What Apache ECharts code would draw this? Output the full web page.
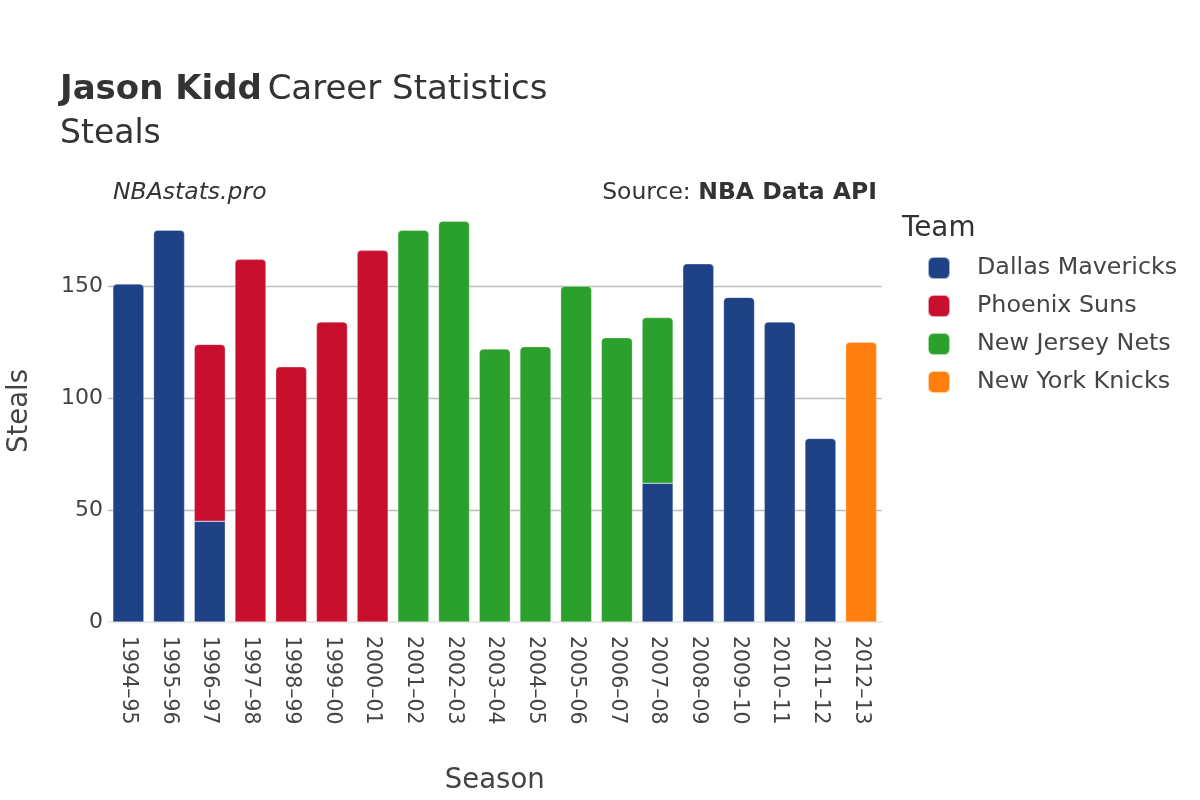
<!DOCTYPE html>
<html><head><meta charset="utf-8">
<script src="https://cdn.jsdelivr.net/npm/echarts@6/dist/echarts.min.js"></script>
<style>html,body{margin:0;padding:0;background:#fff}#c{width:1200px;height:800px}</style>
</head><body><div id="c"></div>
<script>
const seasons = ["1994\u201395","1995\u201396","1996\u201397","1997\u201398","1998\u201399","1999\u201300","2000\u201301","2001\u201302","2002\u201303","2003\u201304","2004\u201305","2005\u201306","2006\u201307","2007\u201308","2008\u201309","2009\u201310","2010\u201311","2011\u201312","2012\u201313"];
const teams = ["Dallas Mavericks","Phoenix Suns","New Jersey Nets","New York Knicks"];
const teamColors = ["#1f4287","#c8102e","#2ca02c","#ff7f0e"];
const dal = [151,175,45,null,null,null,null,null,null,null,null,null,null,62,160,145,134,82,null];
const phx = [null,null,79,162,114,134,166,null,null,null,null,null,null,null,null,null,null,null,null];
const njn = [null,null,null,null,null,null,null,175,179,122,123,150,127,74,null,null,null,null,null];
const nyk = [null,null,null,null,null,null,null,null,null,null,null,null,null,null,null,null,null,null,125];
const yTicks = [0,50,100,150];

const font = "DejaVu Sans, sans-serif";
const all = [dal,phx,njn,nyk];
const series = all.map((arr,si)=>({
  name: teams[si], type:'bar', stack:'total', barWidth:31,
  itemStyle:{color:teamColors[si], borderColor:'rgba(255,255,255,0.6)', borderWidth:0.5},
  data: arr.map((v,i)=>{
    if(v==null) return null;
    const isTop = !all.slice(si+1).some(a=>a[i]!=null);
    return {value:v, itemStyle:{borderRadius: isTop?[4,4,0,0]:0}};
  })
}));

const chart = echarts.init(document.getElementById('c'));
chart.setOption({
  animation:false,
  textStyle:{fontFamily:font},
  grid:{left:108,right:318.5,top:200,bottom:178,containLabel:false,outerBoundsMode:'none'},
  xAxis:{type:'category', data:seasons,
    axisLine:{show:true,lineStyle:{color:'#ebebeb',width:2}},
    axisTick:{show:false},
    axisLabel:{rotate:-90, color:'#444', fontSize:20.5, fontFamily:font, margin:14},
    name:'Season', nameLocation:'middle', nameGap:145,
    nameTextStyle:{fontSize:27.5,color:'#444',fontFamily:font}
  },
  yAxis:{type:'value', min:0, max:188.5, interval:50,
    axisLine:{show:false}, axisTick:{show:false},
    axisLabel:{color:'#444', fontSize:22, fontFamily:font, margin:5, showMaxLabel:false,
      formatter:v=>yTicks.includes(v)?String(v):''},
    splitLine:{show:true,lineStyle:{color:['#ebebeb','#bdbdbd','#bdbdbd','#bdbdbd','rgba(0,0,0,0)'],width:1.3}},
    name:'Steals', nameLocation:'middle', nameGap:74, nameRotate:90,
    nameTextStyle:{fontSize:27.5,color:'#444',fontFamily:font}
  },
  legend:{orient:'vertical', left:922, top:251, itemWidth:22, itemHeight:22, itemGap:14,
    icon:'roundRect', data:teams,
    textStyle:{fontSize:23.8,color:'#444',fontFamily:font,padding:[0,0,0,22]}
  },
  title:[
    {text:'{b|Jason Kidd} {n|Career Statistics}', left:55, top:68,
      textStyle:{fontWeight:'normal',rich:{b:{fontSize:34,fontWeight:'bold',color:'#333',fontFamily:font},n:{fontSize:34,fontWeight:'normal',color:'#333',fontFamily:font}}}},
    {text:'Steals', left:55, top:113, textStyle:{fontSize:33,fontWeight:'normal',color:'#333',fontFamily:font}},
    {text:'NBAstats.pro', left:108, top:176, textStyle:{fontSize:23.5,fontStyle:'italic',fontWeight:'normal',color:'#333',fontFamily:font}},
    {text:'{a|Source: }{b|NBA Data API}', right:318, top:176,
      textStyle:{fontWeight:'normal',rich:{a:{fontSize:23.5,fontWeight:'normal',color:'#333',fontFamily:font},b:{fontSize:23.5,fontWeight:'bold',color:'#333',fontFamily:font}}}},
    {text:'Team', left:897, top:210, textStyle:{fontSize:27.8,fontWeight:'normal',color:'#333',fontFamily:font}}
  ],
  series: series
});
</script></body></html>
